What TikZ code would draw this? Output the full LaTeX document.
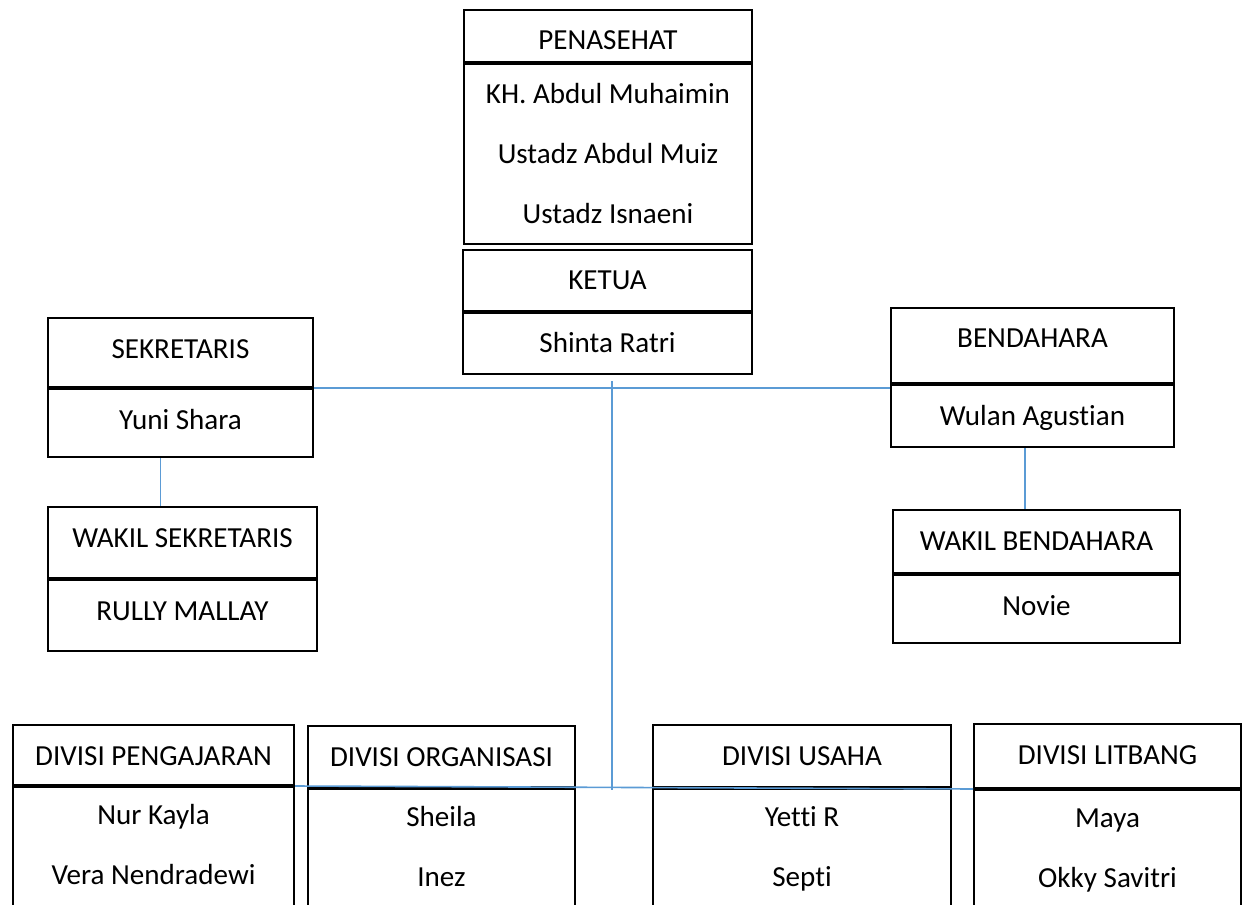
\documentclass[tikz,border=0pt]{standalone}
\usepackage{fontspec}
\setmainfont[Ligatures=NoCommon]{Carlito}
\usetikzlibrary{positioning}
\definecolor{linkblue}{RGB}{91,155,213}
\tikzstyle{cell}=[draw, line width=1.5pt, inner sep=0pt, align=center, text height=30pt, font={\fontsize{21.8}{45}\selectfont}]
\tikzstyle{head}=[cell, anchor=north west]
\tikzstyle{two}=[cell, text height=72.75pt]
\tikzstyle{three}=[cell, text height=120pt]
\tikzstyle{link}=[draw=linkblue, line width=1.2pt]

\begin{document}
\begin{tikzpicture}[x=0.75pt, y=-0.75pt, node distance=0pt]
    \clip (0,0) rectangle (1248,905);
    % top
    \node [head, minimum width=216pt, text depth=9pt] (penH) at (463,9) {PENASEHAT};
    \node [three, minimum width=216pt, text depth=15pt] (penB) [below=of penH] {KH. Abdul Muhaimin\\Ustadz Abdul Muiz\\Ustadz Isnaeni};
    \node [head, minimum width=216.75pt, text depth=15.75pt] (ketH) at (462,249) {KETUA};
    \node [cell, minimum width=216.75pt, text depth=15.75pt] (ketB) [below=of ketH] {Shinta Ratri};
    % left and right
    \node [head, minimum width=198.75pt, text depth=21.75pt] (sekH) at (47,317) {SEKRETARIS};
    \node [cell, minimum width=198.75pt, text depth=21pt] (sekB) [below=of sekH] {Yuni Shara};
    \node [head, minimum width=201.75pt, text depth=23.25pt] (wsekH) at (47,506) {WAKIL SEKRETARIS};
    \node [cell, minimum width=201.75pt, text depth=23.25pt] (wsekB) [below=of wsekH] {RULLY MALLAY};
    \node [head, minimum width=212.25pt, text depth=26.25pt] (benH) at (890,307) {BENDAHARA};
    \node [cell, minimum width=212.25pt, text depth=16.5pt] (benB) [below=of benH] {Wulan Agustian};
    \node [head, minimum width=215.25pt, text depth=17.25pt] (wbenH) at (892,509) {WAKIL BENDAHARA};
    \node [cell, minimum width=215.25pt, text depth=21pt] (wbenB) [below=of wbenH] {Novie};
    % divisions
    \node [head, minimum width=210.75pt, text depth=15pt] (pengH) at (12,724) {DIVISI PENGAJARAN};
    \node [two, minimum width=210.75pt, text depth=19.5pt] (pengB) [below=of pengH] {Nur Kayla\\Vera Nendradewi};
    \node [head, minimum width=200.25pt, text depth=15.75pt] (orgH) at (307,725) {DIVISI ORGANISASI};
    \node [two, minimum width=200.25pt, text depth=19.25pt] (orgB) [below=of orgH] {Sheila\\Inez};
    \node [head, minimum width=223.5pt, text depth=16.5pt] (usaH) at (652,724) {DIVISI USAHA};
    \node [two, minimum width=223.5pt, text depth=19.25pt] (usaB) [below=of usaH] {Yetti R\\Septi};
    \node [head, minimum width=200.25pt, text depth=18pt] (litH) at (973,723) {DIVISI LITBANG};
    \node [two, minimum width=200.25pt, text depth=19.25pt] (litB) [below=of litH] {Maya\\Okky Savitri};
    % lines
    \coordinate (trunkTop) at (612,381);
    \coordinate (trunkEnd) at (612,790);
    \draw [link] (sekH.south east) -- (sekH.south east -| benB.west);
    \draw [link] (trunkTop) -- (trunkEnd);
    \draw [link] ([xshift=-15pt]sekB.south) -- ([xshift=-15pt]sekB.south |- wsekH.north);
    \draw [link] ([xshift=-5.6pt]benB.south) -- ([xshift=-5.6pt]benB.south |- wbenH.north);
    \draw [link] (pengH.south east) -- (litH.south west);
\end{tikzpicture}
\end{document}
